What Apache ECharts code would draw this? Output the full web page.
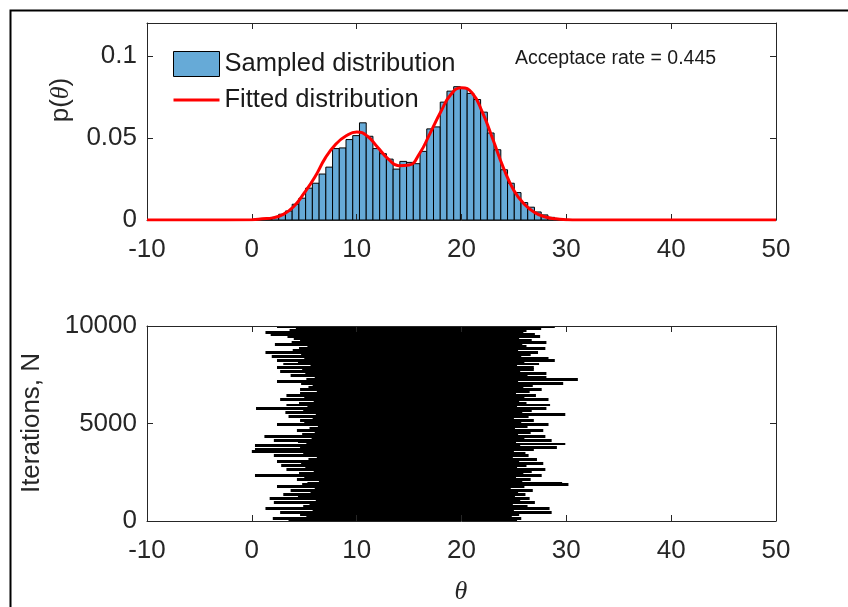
<!DOCTYPE html>
<html>
<head>
<meta charset="utf-8">
<script src="https://cdn.jsdelivr.net/npm/echarts@6/dist/echarts.min.js"></script>
<style>
  html, body { margin: 0; padding: 0; background: #ffffff; }
  #chart { width: 848px; height: 607px; }
</style>
</head>
<body>
<div id="chart"></div>
<script>
// ---- axis tick values ----
const thetaTicks = [-10, 0, 10, 20, 30, 40, 50];
const densityTicks = [0, 0.05, 0.1];
const densityMax = 0.12;
const iterationTicks = [0, 5000, 10000];

// ---- histogram of the sampled chain (density per bin) ----
const binStart = 1.28;      // left edge of the first bin (theta)
const binWidth = 0.642;     // bin width (theta)
const binDensity = [
  0.0004, 0.0016, 0.0035, 0.0055, 0.0096, 0.0133, 0.0194, 0.0224, 0.0280, 0.0322,
  0.0435, 0.0439, 0.0490, 0.0514, 0.0592, 0.0510, 0.0435, 0.0404, 0.0371, 0.0310,
  0.0357, 0.0351, 0.0343, 0.0418, 0.0555, 0.0567, 0.0718, 0.0785, 0.0812, 0.0804,
  0.0771, 0.0734, 0.0657, 0.0530, 0.0428, 0.0306, 0.0224, 0.0167, 0.0106, 0.0078,
  0.0049, 0.0031, 0.0016
];

// ---- fitted two-component density ----
const fitTheta = [-10, -5, 0, 1, 2, 3, 4, 5, 6, 7, 8, 9, 10, 11, 12, 13, 14, 15, 16, 17,
                  18, 19, 20, 21, 22, 23, 24, 25, 26, 27, 28, 29, 30, 31, 35, 50];
const fitDensity = [0, 0, 0.0002, 0.0007, 0.0013, 0.0034, 0.0082, 0.0165, 0.0260, 0.0377,
                    0.0462, 0.0513, 0.0536, 0.0512, 0.0443, 0.0373, 0.0331, 0.0335, 0.0405, 0.0528,
                    0.0656, 0.0766, 0.0806, 0.0775, 0.0655, 0.0490, 0.0318, 0.0180, 0.0096, 0.0045,
                    0.0018, 0.0007, 0.0002, 0, 0, 0];

// ---- chain trace: leftmost / rightmost theta in each block of 100 iterations ----
const traceStep = 100;
const traceLeft = [
  3.5, 2.0, 5.2, 4.6, 2.7, 5.8, 1.3, 4.9, 5.5, 2.1,
  6.1, 1.7, 4.4, 3.0, 5.6, 3.7, 6.0, 2.4, 4.8, 5.3,
  6.4, 4.3, 5.0, 0.3, 4.5, 5.9, 3.3, 5.1, 2.8, 4.7,
  2.4, 5.4, 6.2, 2.1, 4.9, 0.0, 0.3, 4.6, 0.3, 5.2,
  4.4, 2.1, 5.7, 1.2, 4.8, 6.0, 4.3, 5.5, 6.3, 2.4,
  5.0, 4.6, 5.8, 3.5, 6.1, 3.2, 4.9, 0.4, 5.3, 3.3,
  4.5, 5.9, 2.7, 5.0, 3.3, 4.6, 6.2, 4.6, 5.4, 5.8,
  4.7, 2.4, 5.2, 6.0, 3.7, 5.1, 2.7, 4.8, 2.4, 5.6,
  3.0, 4.4, 2.4, 5.0, 1.9, 4.7, 1.3, 3.9, 4.5, 5.3,
  2.2, 3.8, 4.6, 4.0, 3.4, 1.8, 1.3, 3.6, 4.2, 2.4
];
const traceRight = [
  25.3, 25.7, 24.8, 25.5, 28.6, 25.0, 28.4, 26.3, 24.9, 27.0,
  25.6, 26.5, 25.1, 26.1, 25.4, 26.8, 24.7, 26.0, 30.2, 29.6,
  25.8, 26.6, 25.2, 27.65, 25.9, 26.7, 28.0, 25.3, 26.2, 27.8,
  25.5, 27.2, 24.9, 26.4, 26.1, 25.0, 26.9, 29.1, 25.6, 29.9,
  25.2, 28.6, 26.0, 28.0, 25.4, 26.6, 27.8, 25.1, 26.3, 28.3,
  25.7, 26.9, 25.0, 26.4, 29.9, 25.8, 26.7, 28.1, 25.3, 28.45,
  26.2, 25.5, 28.3, 26.0, 27.1, 25.2, 26.5, 27.65, 25.9, 26.8,
  29.7, 25.4, 31.1, 28.1, 26.3, 28.1, 25.6, 26.9, 26.9, 25.3,
  27.4, 26.0, 28.9, 28.3, 25.7, 26.6, 27.3, 25.4, 28.0, 26.2,
  25.8, 28.1, 26.7, 25.5, 27.5, 27.0, 25.9, 26.2, 27.6, 28.9
];

const acceptanceRate = 0.445;

// ---- build series data ----
const histData = binDensity.map((d, i) => [binStart + i * binWidth, binStart + (i + 1) * binWidth, d]);
const fitData = fitTheta.map((t, i) => [t, fitDensity[i]]);
const traceData = traceLeft.map((l, i) => [l, traceRight[i], i * traceStep, (i + 1) * traceStep]);

const FONT = "'Liberation Sans', Arial, sans-serif";
const AXIS_COLOR = '#262626';
const BAR_COLOR = '#66AAD7';

function xAxisFor(grid, pos, labels) {
  return {
    type: 'value', gridIndex: grid, position: pos,
    min: thetaTicks[0], max: thetaTicks[thetaTicks.length - 1], interval: thetaTicks[1] - thetaTicks[0],
    axisLine: { show: true, onZero: false, lineStyle: { color: AXIS_COLOR, width: 1 } },
    axisTick: { show: true, inside: true, length: 6, lineStyle: { color: AXIS_COLOR } },
    axisLabel: { show: labels, fontSize: 26, color: AXIS_COLOR, fontFamily: FONT, margin: 17,
                 formatter: v => String(v) },
    splitLine: { show: false },
    z: 4
  };
}
function yAxisFor(grid, pos, labels, ticks, max) {
  return {
    type: 'value', gridIndex: grid, position: pos,
    min: ticks[0], max: max, interval: ticks[1] - ticks[0],
    axisLine: { show: true, onZero: false, lineStyle: { color: AXIS_COLOR, width: 1 } },
    axisTick: { show: true, inside: true, length: 6, lineStyle: { color: AXIS_COLOR } },
    axisLabel: { show: labels, fontSize: 26, color: AXIS_COLOR, fontFamily: FONT, margin: 10,
                 showMaxLabel: max === ticks[ticks.length - 1],
                 formatter: v => String(v) },
    splitLine: { show: false },
    z: 4
  };
}

const chart = echarts.init(document.getElementById('chart'), null, { renderer: 'canvas' });
chart.setOption({
  animation: false,
  backgroundColor: '#ffffff',
  textStyle: { fontFamily: FONT },
  grid: [
    { left: 147, top: 23, width: 629, height: 197 },
    { left: 147, top: 326, width: 629, height: 195 }
  ],
  xAxis: [
    xAxisFor(0, 'bottom', true),
    xAxisFor(0, 'top', false),
    xAxisFor(1, 'bottom', true),
    xAxisFor(1, 'top', false)
  ],
  yAxis: [
    yAxisFor(0, 'left', true, densityTicks, densityMax),
    yAxisFor(0, 'right', false, densityTicks, densityMax),
    yAxisFor(1, 'left', true, iterationTicks, iterationTicks[iterationTicks.length - 1]),
    yAxisFor(1, 'right', false, iterationTicks, iterationTicks[iterationTicks.length - 1])
  ],
  legend: {
    orient: 'vertical', left: 172, top: 51, padding: 0,
    itemWidth: 46, itemHeight: 25, itemGap: 10,
    selectedMode: false,
    textStyle: { fontSize: 25.5, color: '#1a1a1a', fontFamily: FONT },
    data: [
      { name: 'Sampled distribution', icon: 'rect',
        itemStyle: { color: BAR_COLOR, borderColor: '#000000', borderWidth: 1 } },
      { name: 'Fitted distribution',
        itemStyle: { color: 'rgba(0,0,0,0)', borderWidth: 0 },
        lineStyle: { color: '#ff0000', width: 3 } }
    ]
  },
  graphic: [
    { type: 'rect', left: 8, top: 8, silent: true,
      shape: { width: 900, height: 700 },
      style: { fill: 'none', stroke: '#000000', lineWidth: 2 } },
    { type: 'text', x: 515, y: 59, silent: true,
      style: { text: 'Acceptace rate = ' + acceptanceRate, fontSize: 19.5, fontFamily: FONT,
               fill: '#1a1a1a', align: 'left', verticalAlign: 'middle' } },
    { type: 'text', x: 61, y: 100, rotation: Math.PI / 2, silent: true,
      style: { text: 'p({t|θ})', fontSize: 26, fontFamily: FONT, fill: AXIS_COLOR,
               align: 'center', verticalAlign: 'middle',
               rich: { t: { fontSize: 26, fontStyle: 'italic', fontFamily: "'Liberation Serif', serif", fill: AXIS_COLOR } } } },
    { type: 'text', x: 32, y: 423, rotation: Math.PI / 2, silent: true,
      style: { text: 'Iterations, N', fontSize: 26, fontFamily: FONT, fill: AXIS_COLOR,
               align: 'center', verticalAlign: 'middle' } },
    { type: 'text', x: 461, y: 592, silent: true,
      style: { text: 'θ', fontSize: 26, fontStyle: 'italic', fontFamily: "'Liberation Serif', serif",
               fill: AXIS_COLOR, align: 'center', verticalAlign: 'middle' } }
  ],
  series: [
    {
      name: 'Sampled distribution',
      type: 'custom',
      xAxisIndex: 0, yAxisIndex: 0,
      z: 1,
      itemStyle: { color: BAR_COLOR },
      encode: { x: [0, 1], y: 2 },
      data: histData,
      renderItem: function (params, api) {
        const p0 = api.coord([api.value(0), api.value(2)]);
        const p1 = api.coord([api.value(1), 0]);
        return {
          type: 'rect',
          shape: { x: p0[0], y: p0[1], width: p1[0] - p0[0], height: p1[1] - p0[1] },
          style: { fill: BAR_COLOR, stroke: '#000000', lineWidth: 1 }
        };
      }
    },
    {
      name: 'Fitted distribution',
      type: 'line',
      xAxisIndex: 0, yAxisIndex: 0,
      z: 6,
      data: fitData,
      smooth: 0.5,
      symbol: 'none',
      itemStyle: { color: '#ff0000' },
      lineStyle: { color: '#ff0000', width: 3 }
    },
    {
      // each block of the chain sweeps between its leftmost and rightmost theta;
      // block edges are snapped to whole pixels so neighbouring blocks join cleanly
      name: 'trace',
      type: 'custom',
      xAxisIndex: 2, yAxisIndex: 2,
      z: 3,
      encode: { x: [0, 1], y: [2, 3] },
      data: traceData,
      renderItem: function (params, api) {
        const a = api.coord([api.value(0), api.value(3)]);
        const b = api.coord([api.value(1), api.value(2)]);
        const top = Math.floor(a[1]);
        const bottom = Math.ceil(b[1]);
        return {
          type: 'rect',
          shape: { x: a[0], y: top, width: b[0] - a[0], height: bottom - top },
          style: { fill: '#000000' }
        };
      }
    }
  ]
});
</script>
</body>
</html>
